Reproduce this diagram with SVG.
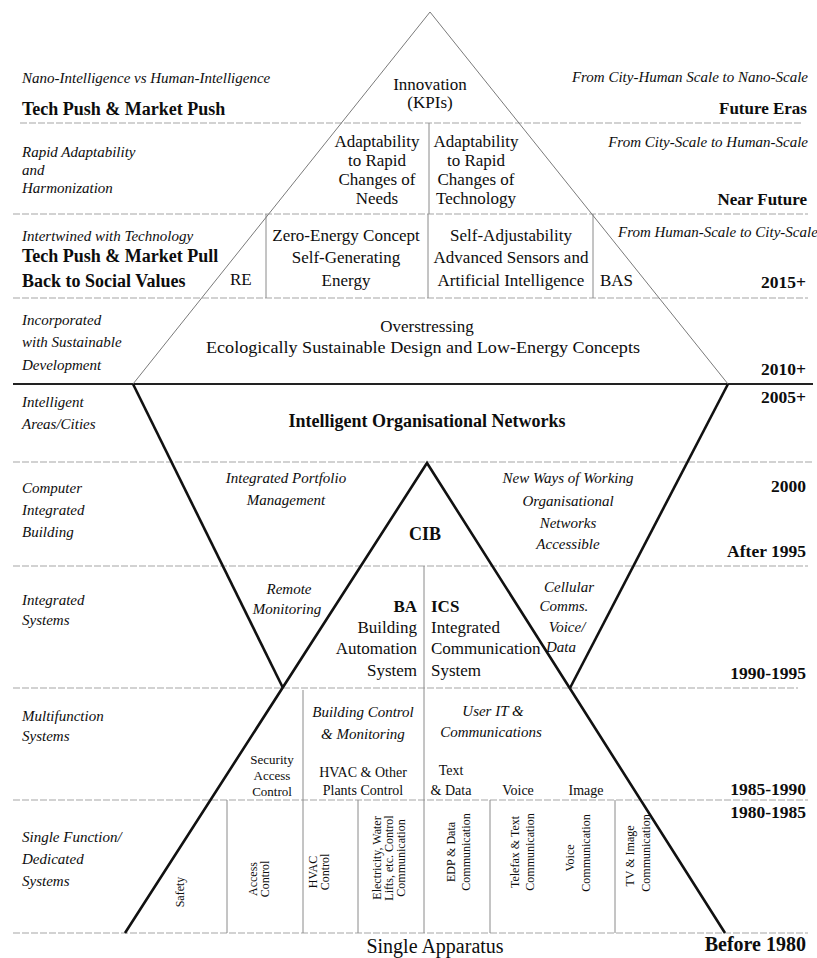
<svg xmlns="http://www.w3.org/2000/svg" width="817" height="958" viewBox="0 0 817 958">
  <style>
    text { font-family: 'Liberation Serif', 'Times New Roman', serif; fill: #0d0d0d; }
    .it { font-style: italic; font-size: 15px; }
    .b { font-weight: bold; font-size: 17px; }
    .bl { font-weight: bold; font-size: 18px; }
    .d { font-weight: bold; font-size: 17.5px; text-anchor: end; }
    .r { font-size: 17px; }
    .m { font-size: 14px; }
    .sm { font-size: 13px; }
    .v { font-size: 12px; }
    .c { text-anchor: middle; }
    .e { text-anchor: end; }
    .grid { stroke: #a5a5a5; stroke-width: 1; fill: none; stroke-dasharray: 7 2; }
    .sep { stroke: #8a8a8a; stroke-width: 1; fill: none; }
    .thin { stroke: #7a7a7a; stroke-width: 1; fill: none; }
    .thick { stroke: #111; stroke-width: 2.6; fill: none; stroke-linejoin: miter; }
  </style>
  <rect width="817" height="958" fill="#fff"/>

  <!-- horizontal era bands -->
  <g id="bands">
    <line class="grid" x1="20" y1="123" x2="801" y2="123"/>
    <line class="grid" x1="13" y1="214" x2="808" y2="214"/>
    <line class="grid" x1="13" y1="298" x2="808" y2="298"/>
    <line x1="13" y1="384" x2="813" y2="384" stroke="#222" stroke-width="2"/>
    <line class="grid" x1="13" y1="462" x2="813" y2="462"/>
    <line class="grid" x1="13" y1="566" x2="808" y2="566"/>
    <line class="grid" x1="13" y1="688" x2="798" y2="688" stroke="#d0d0d0"/>
    <line class="grid" x1="13" y1="800" x2="808" y2="800"/>
    <line class="grid" x1="13" y1="933" x2="808" y2="933"/>
  </g>

  <!-- column dividers -->
  <g id="dividers">
    <line class="sep" x1="429" y1="123" x2="429" y2="214"/>
    <line class="sep" x1="266" y1="214" x2="266" y2="298"/>
    <line class="sep" x1="428" y1="214" x2="428" y2="298"/>
    <line class="sep" x1="593" y1="214" x2="593" y2="298"/>
    <line class="sep" x1="424" y1="566" x2="424" y2="933"/>
    <line class="sep" x1="303" y1="690" x2="303" y2="933"/>
    <line class="sep" x1="227" y1="800" x2="227" y2="933"/>
    <line class="sep" x1="358" y1="800" x2="358" y2="933"/>
    <line class="sep" x1="490" y1="800" x2="490" y2="933"/>
    <line class="sep" x1="615" y1="800" x2="615" y2="933"/>
  </g>

  <!-- triangles -->
  <g id="connectors">
    <polyline class="thin" points="133,384 430,12 728,384"/>
    <line class="thick" x1="133" y1="384" x2="283" y2="688"/>
    <line class="thick" x1="728" y1="384" x2="570" y2="688"/>
    <polyline class="thick" points="125,933 427,463 725,933"/>
  </g>

  <!-- left column: characteristics -->
  <g id="left-labels">
    <text class="it" x="22" y="83">Nano-Intelligence vs Human-Intelligence</text>
    <text class="bl" x="22" y="115">Tech Push &amp; Market Push</text>
    <text class="it" x="22" y="157">Rapid Adaptability</text>
    <text class="it" x="22" y="175">and</text>
    <text class="it" x="22" y="193">Harmonization</text>
    <text class="it" x="22" y="241">Intertwined with Technology</text>
    <text class="bl" x="22" y="262">Tech Push &amp; Market Pull</text>
    <text class="bl" x="22" y="287">Back to Social Values</text>
    <text class="it" x="22" y="325">Incorporated</text>
    <text class="it" x="22" y="347">with Sustainable</text>
    <text class="it" x="22" y="370">Development</text>
    <text class="it" x="22" y="407">Intelligent</text>
    <text class="it" x="22" y="429">Areas/Cities</text>
    <text class="it" x="22" y="493">Computer</text>
    <text class="it" x="22" y="515">Integrated</text>
    <text class="it" x="22" y="537">Building</text>
    <text class="it" x="22" y="605">Integrated</text>
    <text class="it" x="22" y="625">Systems</text>
    <text class="it" x="22" y="721">Multifunction</text>
    <text class="it" x="22" y="741">Systems</text>
    <text class="it" x="22" y="842">Single Function/</text>
    <text class="it" x="22" y="864">Dedicated</text>
    <text class="it" x="22" y="886">Systems</text>
  </g>

  <!-- right column: scale and eras -->
  <g id="right-labels">
    <text class="it e" x="808" y="82">From City-Human Scale to Nano-Scale</text>
    <text class="b e" x="807" y="114">Future Eras</text>
    <text class="it e" x="808" y="147">From City-Scale to Human-Scale</text>
    <text class="b e" x="807" y="205">Near Future</text>
    <text class="it" x="618" y="237">From Human-Scale to City-Scale</text>
    <text class="d" x="806" y="288">2015+</text>
    <text class="d" x="806" y="375">2010+</text>
    <text class="d" x="806" y="403">2005+</text>
    <text class="d" x="806" y="492">2000</text>
    <text class="d" x="806" y="557">After 1995</text>
    <text class="d" x="806" y="679">1990-1995</text>
    <text class="d" x="806" y="795">1985-1990</text>
    <text class="d" x="806" y="818">1980-1985</text>
    <text class="d" x="806" y="951" style="font-size:20px">Before 1980</text>
  </g>

  <!-- upper triangle: future concepts -->
  <g id="innovation">
    <text class="r c" x="430" y="90">Innovation</text>
    <text class="r c" x="430" y="108">(KPIs)</text>
  </g>
  <g id="adapt-needs">
    <text class="r c" x="377" y="147">Adaptability</text>
    <text class="r c" x="377" y="166">to Rapid</text>
    <text class="r c" x="377" y="185">Changes of</text>
    <text class="r c" x="377" y="204">Needs</text>
  </g>
  <g id="adapt-tech">
    <text class="r c" x="476" y="147">Adaptability</text>
    <text class="r c" x="476" y="166">to Rapid</text>
    <text class="r c" x="476" y="185">Changes of</text>
    <text class="r c" x="476" y="204">Technology</text>
  </g>
  <g id="re">
    <text class="r" x="230" y="285">RE</text>
  </g>
  <g id="zero-energy">
    <text class="r c" x="346" y="241">Zero-Energy Concept</text>
    <text class="r c" x="346" y="263">Self-Generating</text>
    <text class="r c" x="346" y="286">Energy</text>
  </g>
  <g id="self-adjust">
    <text class="r c" x="511" y="241">Self-Adjustability</text>
    <text class="r c" x="511" y="263">Advanced Sensors and</text>
    <text class="r c" x="511" y="286">Artificial Intelligence</text>
  </g>
  <g id="bas">
    <text class="r" x="600" y="286">BAS</text>
  </g>
  <g id="overstressing">
    <text class="r c" x="427" y="332">Overstressing</text>
    <text class="r c" x="423" y="353" textLength="434" lengthAdjust="spacingAndGlyphs">Ecologically Sustainable Design and Low-Energy Concepts</text>
  </g>

  <!-- lower structure -->
  <g id="ion">
    <text class="bl c" x="427" y="427">Intelligent Organisational Networks</text>
  </g>
  <g id="portfolio">
    <text class="it c" x="286" y="483">Integrated Portfolio</text>
    <text class="it c" x="286" y="505">Management</text>
  </g>
  <g id="cib">
    <text class="bl c" x="425" y="540">CIB</text>
  </g>
  <g id="new-ways">
    <text class="it c" x="568" y="483">New Ways of Working</text>
    <text class="it c" x="568" y="506">Organisational</text>
    <text class="it c" x="568" y="528">Networks</text>
    <text class="it c" x="568" y="549">Accessible</text>
  </g>
  <g id="remote">
    <text class="it c" x="289" y="594">Remote</text>
    <text class="it c" x="287" y="614">Monitoring</text>
  </g>
  <g id="ba">
    <text class="b e" x="417" y="612">BA</text>
    <text class="r e" x="417" y="633">Building</text>
    <text class="r e" x="417" y="654">Automation</text>
    <text class="r e" x="417" y="676">System</text>
  </g>
  <g id="ics">
    <text class="b" x="431" y="612">ICS</text>
    <text class="r" x="431" y="633">Integrated</text>
    <text class="r" x="431" y="654">Communication</text>
    <text class="r" x="431" y="676">System</text>
  </g>
  <g id="cellular">
    <text class="it c" x="569" y="592">Cellular</text>
    <text class="it c" x="564" y="611">Comms.</text>
    <text class="it c" x="567" y="632">Voice/</text>
    <text class="it c" x="561" y="652">Data</text>
  </g>
  <g id="building-control">
    <text class="it c" x="363" y="717">Building Control</text>
    <text class="it c" x="363" y="739">&amp; Monitoring</text>
  </g>
  <g id="user-it">
    <text class="it c" x="493" y="716">User IT &amp;</text>
    <text class="it c" x="491" y="737">Communications</text>
  </g>
  <g id="security">
    <text class="sm c" x="272" y="764">Security</text>
    <text class="sm c" x="272" y="780">Access</text>
    <text class="sm c" x="272" y="796">Control</text>
  </g>
  <g id="hvac-plants">
    <text class="m c" x="363" y="777">HVAC &amp; Other</text>
    <text class="m c" x="363" y="795">Plants Control</text>
  </g>
  <g id="text-data">
    <text class="m c" x="451" y="775">Text</text>
    <text class="m c" x="451" y="795">&amp; Data</text>
  </g>
  <g id="voice">
    <text class="m c" x="518" y="795">Voice</text>
  </g>
  <g id="image">
    <text class="m c" x="586" y="795">Image</text>
  </g>

  <!-- single-function systems, set vertically -->
  <g id="safety">
    <text class="v c" transform="translate(184,892) rotate(-90)">Safety</text>
  </g>
  <g id="access-control">
    <text class="v c" transform="translate(257,879) rotate(-90)">Access</text>
    <text class="v c" transform="translate(269,879) rotate(-90)">Control</text>
  </g>
  <g id="hvac-control">
    <text class="v c" transform="translate(317,872) rotate(-90)">HVAC</text>
    <text class="v c" transform="translate(329,872) rotate(-90)">Control</text>
  </g>
  <g id="electricity">
    <text class="v c" transform="translate(381,858) rotate(-90)">Electricity, Water</text>
    <text class="v c" transform="translate(393,858) rotate(-90)">Lifts, etc. Control</text>
    <text class="v c" transform="translate(405,858) rotate(-90)">Communication</text>
  </g>
  <g id="edp">
    <text class="v c" transform="translate(455,852) rotate(-90)">EDP &amp; Data</text>
    <text class="v c" transform="translate(470,852) rotate(-90)">Communication</text>
  </g>
  <g id="telefax">
    <text class="v c" transform="translate(519,852) rotate(-90)">Telefax &amp; Text</text>
    <text class="v c" transform="translate(534,852) rotate(-90)">Communication</text>
  </g>
  <g id="voice-comm">
    <text class="v c" transform="translate(574,858) rotate(-90)">Voice</text>
    <text class="v c" transform="translate(590,853) rotate(-90)">Communication</text>
  </g>
  <g id="tv-image">
    <text class="v c" transform="translate(634,856) rotate(-90)">TV &amp; Image</text>
    <text class="v c" transform="translate(650,853) rotate(-90)">Communication</text>
  </g>

  <g id="single-apparatus">
    <text class="c" x="435" y="953" style="font-size:20px">Single Apparatus</text>
  </g>
</svg>
